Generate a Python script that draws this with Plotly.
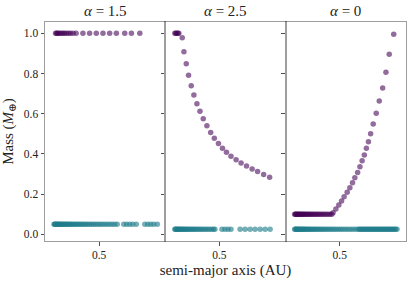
import plotly.graph_objects as go

# ---- data ----
titles = ["<i>α</i> = 1.5", "<i>α</i> = 2.5", "<i>α</i> = 0"]

# panel 1 (alpha = 1.5)
p1_purple_a = [0.142, 0.150, 0.158, 0.166, 0.179, 0.191, 0.204, 0.216, 0.232, 0.249,
               0.265, 0.286, 0.311, 0.367, 0.422, 0.477, 0.532, 0.587, 0.642, 0.711,
               0.766, 0.835]
p1_purple_m = [1.0] * len(p1_purple_a)
p1_teal_a = [0.129, 0.135, 0.141, 0.147, 0.153, 0.160, 0.167, 0.174, 0.181, 0.189,
             0.197, 0.205, 0.214, 0.223, 0.232, 0.242, 0.252, 0.262, 0.273, 0.284,
             0.296, 0.308, 0.320, 0.333, 0.346, 0.360, 0.374, 0.389, 0.404, 0.420,
             0.436, 0.453, 0.470, 0.488, 0.506, 0.525, 0.545, 0.565, 0.586, 0.607,
             0.628, 0.649, 0.703, 0.727, 0.752, 0.777, 0.806, 0.876, 0.901, 0.925,
             0.950, 0.979]
p1_teal_m = [0.05] * len(p1_teal_a)

# panel 2 (alpha = 2.5)
p2_purple_a = [0.133, 0.141, 0.150, 0.158, 0.166, 0.194, 0.208, 0.227, 0.246, 0.268,
               0.290, 0.315, 0.340, 0.367, 0.397, 0.428, 0.458, 0.492, 0.525, 0.558,
               0.595, 0.637, 0.678, 0.723, 0.769, 0.814, 0.864, 0.913]
p2_purple_m = [1.0, 1.0, 1.0, 1.0, 1.0, 0.978, 0.908, 0.849, 0.791, 0.739,
               0.693, 0.650, 0.612, 0.575, 0.540, 0.507, 0.478, 0.452, 0.428, 0.408,
               0.389, 0.371, 0.355, 0.340, 0.325, 0.312, 0.298, 0.284]
p2_teal_a = [0.133, 0.139, 0.145, 0.152, 0.159, 0.166, 0.173, 0.181, 0.189, 0.197,
             0.206, 0.215, 0.224, 0.234, 0.244, 0.255, 0.266, 0.277, 0.289, 0.301,
             0.314, 0.327, 0.341, 0.355, 0.370, 0.385, 0.401, 0.417, 0.434, 0.451,
             0.463, 0.521, 0.546, 0.571, 0.595, 0.670, 0.711, 0.752, 0.793, 0.835,
             0.876, 0.917]
p2_teal_m = [0.025] * len(p2_teal_a)

# panel 3 (alpha = 0)
p3_purple_a = [0.129, 0.135, 0.141, 0.147, 0.153, 0.160, 0.167, 0.174, 0.181, 0.189,
               0.197, 0.205, 0.214, 0.223, 0.232, 0.242, 0.252, 0.262, 0.273, 0.284,
               0.296, 0.308, 0.320, 0.333, 0.346, 0.360, 0.374, 0.389, 0.404, 0.420,
               0.435, 0.445, 0.468, 0.492, 0.515, 0.536, 0.561, 0.583, 0.605, 0.624,
               0.647, 0.666, 0.684, 0.702, 0.719, 0.736, 0.754, 0.775, 0.800, 0.825,
               0.853, 0.880, 0.907, 0.944]
p3_purple_m = [0.1] * 31 + [0.107, 0.126, 0.146, 0.166, 0.187, 0.209, 0.232, 0.257,
                            0.282, 0.308, 0.336, 0.366, 0.395, 0.428, 0.461, 0.500,
                            0.549, 0.602, 0.663, 0.728, 0.806, 0.896, 0.995]
p3_teal_a = [0.129, 0.135, 0.141, 0.147, 0.153, 0.160, 0.167, 0.174, 0.181, 0.189,
             0.197, 0.205, 0.214, 0.223, 0.232, 0.242, 0.252, 0.262, 0.273, 0.284,
             0.296, 0.308, 0.320, 0.333, 0.346, 0.360, 0.374, 0.389, 0.404, 0.420,
             0.436, 0.453, 0.470, 0.488, 0.506, 0.525, 0.545, 0.565, 0.586, 0.607,
             0.628, 0.649, 0.660, 0.670, 0.680, 0.690, 0.700, 0.710, 0.720, 0.730,
             0.740, 0.750, 0.760, 0.770, 0.780, 0.790, 0.800, 0.810, 0.820, 0.830,
             0.840, 0.850, 0.860, 0.870, 0.880, 0.890, 0.900, 0.910, 0.920, 0.930,
             0.940, 0.950, 0.960, 0.971]
p3_teal_m = [0.025] * len(p3_teal_a)

x_ticks = [0.5]
x_tick_labels = ["0.5"]
y_ticks = [0.0, 0.2, 0.4, 0.6, 0.8, 1.0]
y_tick_labels = ["0.0", "0.2", "0.4", "0.6", "0.8", "1.0"]

# ---- styling ----
PURPLE = "rgba(68,1,84,0.58)"
TEAL = "rgba(30,125,138,0.62)"
FONT = "Liberation Serif, DejaVu Serif, serif"
LINE = "rgba(0,0,0,0.38)"

panels = [
    (p1_purple_a, p1_purple_m, p1_teal_a, p1_teal_m),
    (p2_purple_a, p2_purple_m, p2_teal_a, p2_teal_m),
    (p3_purple_a, p3_purple_m, p3_teal_a, p3_teal_m),
]

fig = go.Figure()
for i, (pa, pm, ta, tm) in enumerate(panels):
    xa = "x" if i == 0 else f"x{i+1}"
    ya = "y" if i == 0 else f"y{i+1}"
    fig.add_trace(go.Scatter(x=ta, y=tm, mode="markers", xaxis=xa, yaxis=ya,
                             marker=dict(color=TEAL, size=5.5, line=dict(width=0)),
                             showlegend=False, hoverinfo="skip"))
    fig.add_trace(go.Scatter(x=pa, y=pm, mode="markers", xaxis=xa, yaxis=ya,
                             marker=dict(color=PURPLE, size=5.5, line=dict(width=0)),
                             showlegend=False, hoverinfo="skip"))

domains = [[0, 1/3], [1/3, 2/3], [2/3, 1]]
tickfont = dict(family=FONT, size=11.5, color="#222")
common_x = dict(range=[0.055, 1.045], tickvals=x_ticks, ticktext=x_tick_labels,
                showline=True, mirror=True, linecolor=LINE, linewidth=1,
                showgrid=False, zeroline=False, ticks="outside", ticklen=3.5,
                tickwidth=0.8, tickcolor="#222", tickfont=tickfont, automargin=False)
common_y = dict(range=[-0.033, 1.056], tickvals=y_ticks, ticktext=y_tick_labels,
                showline=True, mirror=True, linecolor=LINE, linewidth=1,
                showgrid=False, zeroline=False, ticks="outside", ticklen=3.5,
                tickwidth=0.8, tickcolor="#222", tickfont=tickfont, automargin=False)

layout = dict(width=415, height=283, margin=dict(l=45, r=9, t=22, b=42),
              plot_bgcolor="white", paper_bgcolor="white",
              font=dict(family=FONT, color="#222"))
for i in range(3):
    xk = "xaxis" if i == 0 else f"xaxis{i+1}"
    yk = "yaxis" if i == 0 else f"yaxis{i+1}"
    xd = dict(common_x, domain=domains[i], anchor="y" if i == 0 else f"y{i+1}")
    yd = dict(common_y, domain=[0, 1], anchor="x" if i == 0 else f"x{i+1}")
    if i > 0:
        yd["showticklabels"] = False
    if i == 1:
        xd["title"] = dict(text="semi-major axis (AU)", font=dict(family=FONT, size=15, color="#222"),
                           standoff=4)
    if i == 0:
        yd["title"] = dict(text="Mass (<i>M</i><sub>⊕</sub>)", font=dict(family=FONT, size=15, color="#222"),
                           standoff=6)
    layout[xk] = xd
    layout[yk] = yd

annotations = []
for i, t in enumerate(titles):
    annotations.append(dict(text=t, x=(domains[i][0] + domains[i][1]) / 2, y=1.0,
                            xref="paper", yref="paper", xanchor="center", yanchor="bottom",
                            yshift=1, showarrow=False,
                            font=dict(family=FONT, size=15, color="#222")))
layout["annotations"] = annotations
fig.update_layout(**layout)
fig.write_html("out.html", config={"displayModeBar": False, "staticPlot": True},
               post_script="document.body.style.margin='0';document.body.style.padding='0';")
